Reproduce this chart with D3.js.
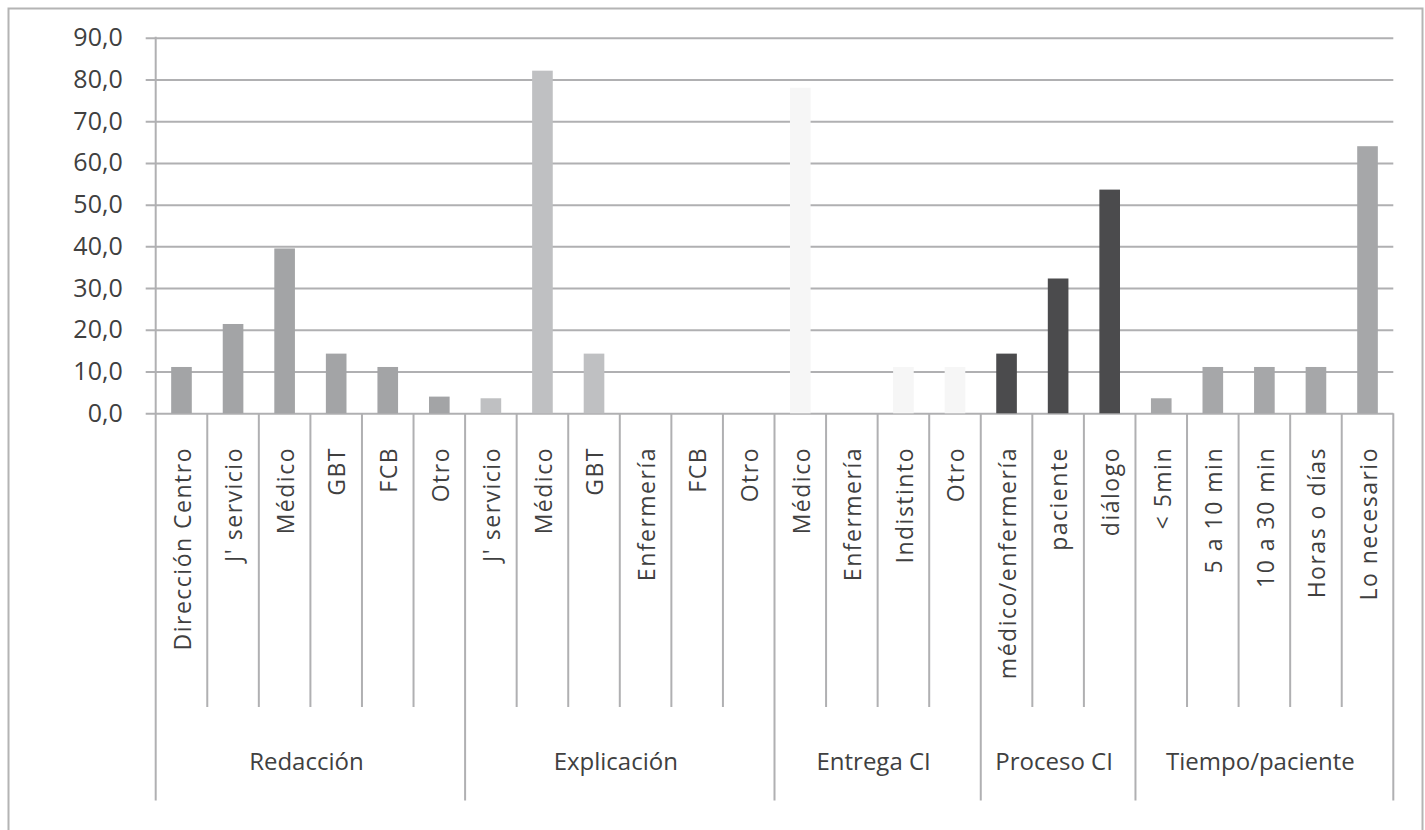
<!DOCTYPE html>
<html>
<head>
<meta charset="utf-8">
<script src="https://cdn.jsdelivr.net/npm/d3@7"></script>
<style>
  html, body { margin: 0; padding: 0; background: #ffffff; }
  svg { display: block; }
  text { font-family: "Open Sans", "Noto Sans", sans-serif; fill: #404040; }
</style>
</head>
<body>
<svg id="chart" width="1425" height="830"></svg>
<script>
// Survey results (%) grouped by question block
const groupNames = ["Redacción", "Explicación", "Entrega CI", "Proceso CI", "Tiempo/paciente"];

const redaccionLabels = ["Dirección Centro", "J' servicio", "Médico", "GBT", "FCB", "Otro"];
const redaccionValues = [11.1, 21.4, 39.5, 14.3, 11.1, 4.0];

const explicacionLabels = ["J' servicio", "Médico", "GBT", "Enfermería", "FCB", "Otro"];
const explicacionValues = [3.6, 82.1, 14.3, 0, 0, 0];

const entregaLabels = ["Médico", "Enfermería", "Indistinto", "Otro"];
const entregaValues = [78.0, 0, 11.1, 11.1];

const procesoLabels = ["médico/enfermería", "paciente", "diálogo"];
const procesoValues = [14.3, 32.3, 53.6];

const tiempoLabels = ["< 5min", "5 a 10 min", "10 a 30 min", "Horas o días", "Lo necesario"];
const tiempoValues = [3.6, 11.1, 11.1, 11.1, 64.0];

const groupColors = ["#a3a4a6", "#bfc0c2", "#f6f6f6", "#4b4b4d", "#a6a7a9"];

const yTicks = [0, 10, 20, 30, 40, 50, 60, 70, 80, 90];

// Flatten the groups into one row per bar
const groupLabels = [redaccionLabels, explicacionLabels, entregaLabels, procesoLabels, tiempoLabels];
const groupValues = [redaccionValues, explicacionValues, entregaValues, procesoValues, tiempoValues];
const rows = [];
groupNames.forEach((g, gi) => {
  groupLabels[gi].forEach((lab, i) => {
    rows.push({ key: gi + "-" + i, group: gi, label: lab, value: groupValues[gi][i] });
  });
});

const svg = d3.select("#chart");
const gridColor = "#b0b0b2";

// Outer chart border (open at the bottom edge of the page)
svg.append("rect")
  .attr("x", 8.5).attr("y", 8.5)
  .attr("width", 1414).attr("height", 840)
  .attr("fill", "none").attr("stroke", "#b4b4b4").attr("stroke-width", 2);

const plotLeft = 155.7, plotRight = 1393.3, plotTop = 37.7, plotBottom = 413.3;

const x = d3.scaleBand()
  .domain(rows.map(d => d.key))
  .range([plotLeft, plotRight])
  .paddingInner(0.6)
  .paddingOuter(0.3);
const step = x.step();

const y = d3.scaleLinear().domain([0, 90]).range([plotBottom, plotTop]);

// Horizontal gridlines (extending slightly left of the axis as ticks)
const yg = svg.append("g")
  .attr("transform", `translate(${plotRight},0)`)
  .call(d3.axisLeft(y).tickValues(yTicks).tickSize(plotRight - plotLeft + 10).tickFormat(""));
yg.select(".domain").remove();
yg.selectAll(".tick line").attr("stroke", gridColor).attr("stroke-width", 2);

// Y axis labels
const yl = svg.append("g")
  .attr("transform", `translate(${plotLeft - 9},0)`)
  .call(d3.axisLeft(y).tickValues(yTicks).tickSize(0).tickPadding(24)
    .tickFormat(d => d3.format(".1f")(d).replace(".", ",")));
yl.select(".domain").remove();
yl.selectAll(".tick text")
  .attr("font-family", "'Open Sans', sans-serif")
  .attr("font-size", 25)
  .attr("fill", "#404040");

// Vertical axis line
svg.append("line")
  .attr("x1", plotLeft).attr("x2", plotLeft)
  .attr("y1", plotTop - 1).attr("y2", plotBottom)
  .attr("stroke", gridColor).attr("stroke-width", 2);

// Bars
svg.append("g").selectAll("rect")
  .data(rows)
  .join("rect")
  .attr("x", d => x(d.key))
  .attr("width", x.bandwidth())
  .attr("y", d => y(d.value))
  .attr("height", d => y(0) - y(d.value))
  .attr("fill", d => groupColors[d.group]);

// Category separators below the axis
const groupStart = [];
let acc = 0;
groupLabels.forEach(l => { groupStart.push(acc); acc += l.length; });
const boundaries = d3.range(rows.length + 1);
svg.append("g").selectAll("line")
  .data(boundaries)
  .join("line")
  .attr("x1", i => plotLeft + i * step)
  .attr("x2", i => plotLeft + i * step)
  .attr("y1", plotBottom)
  .attr("y2", i => (groupStart.includes(i) || i === rows.length) ? 800.5 : 707)
  .attr("stroke", gridColor)
  .attr("stroke-width", 2);

// Rotated category labels
svg.append("g").selectAll("text")
  .data(rows)
  .join("text")
  .attr("transform", d => `translate(${x(d.key) + x.bandwidth() / 2 + 1},447) rotate(-90)`)
  .attr("text-anchor", "end")
  .attr("dy", "0.36em")
  .attr("font-size", 23)
  .attr("letter-spacing", "1.5px")
  .text(d => d.label);

// Group labels
svg.append("g").selectAll("text")
  .data(groupNames)
  .join("text")
  .attr("x", (g, gi) => plotLeft + (groupStart[gi] + groupLabels[gi].length / 2) * step - 4)
  .attr("y", 770)
  .attr("text-anchor", "middle")
  .attr("font-size", 24)
  .text(g => g);
</script>
</body>
</html>
